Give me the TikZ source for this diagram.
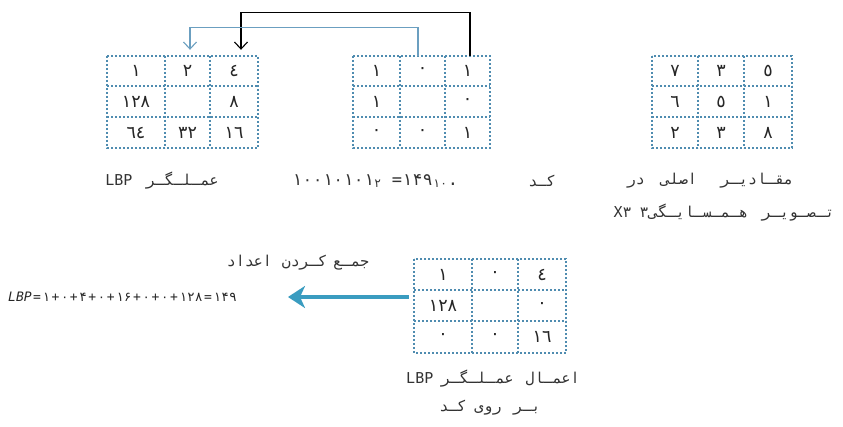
\documentclass[tikz,border=0pt]{standalone}
\usepackage{fontspec}
\usetikzlibrary{arrows.meta}
\setmainfont{DejaVu Sans}
\newfontfamily\arf[Script=Arabic]{DejaVu Sans Mono}
\newfontfamily\digf{DejaVu Sans}
\newfontfamily\monof{DejaVu Sans Mono}
\newcommand\kz{\kern0pt}
\newcommand\ke{\kern1.4pt}
\definecolor{gridc}{HTML}{4F8CB0}
\definecolor{thinblue}{HTML}{6B9FC0}
\definecolor{bigblue}{HTML}{3A9CC0}
\tikzset{
  gridline/.style={gridc, line width=1.8pt, dash pattern=on 1.8pt off 2.2pt},
  cell/.style 2 args={minimum width=#1pt, minimum height=#2pt, inner sep=0pt,
    font=\digf\fontsize{17.5}{19}\selectfont, text=black!85},
  lbl/.style={inner sep=0pt, font=\arf\fontsize{15}{17}\selectfont, text=black!80},
  conblack/.style={black, line width=1.1pt, -{Straight Barb[length=7pt,width=13pt,line width=1.1pt]}},
  conblue/.style={thinblue, line width=1.1pt, -{Straight Barb[length=7pt,width=13pt,line width=1.1pt]}},
  bigarrow/.style={bigblue, line width=4.5pt, -{Stealth[length=17pt,width=22pt,inset=5pt]}}
}
\begin{document}
\begin{tikzpicture}[x=1pt,y=-1pt]
\useasboundingbox (0,0) rectangle (843,427);
\fill[white] (0,0) rectangle (843,427);
% ---------- grid A (LBP operator)
\draw[gridline] (107,56) rectangle (258,148);
\draw[gridline] (165,56)--(165,148) (210,56)--(210,148) (107,86)--(258,86) (107,117)--(258,117);
\node[cell={58}{30}] (A11) at (136,71) {١};
\node[cell={45}{30}] (A12) at (187.5,71) {٢};
\node[cell={48}{30}] (A13) at (234,71) {٤};
\node[cell={58}{31}] (A21) at (136,101.5) {١٢٨};
\node[cell={48}{31}] (A23) at (234,101.5) {٨};
\node[cell={58}{31}] (A31) at (136,132.5) {٦٤};
\node[cell={45}{31}] (A32) at (187.5,132.5) {٣٢};
\node[cell={48}{31}] (A33) at (234,132.5) {١٦};
% ---------- grid B (code)
\draw[gridline] (353,56) rectangle (490,148);
\draw[gridline] (400,56)--(400,148) (445,56)--(445,148) (353,86)--(490,86) (353,117)--(490,117);
\node[cell={47}{30}] (B11) at (376.5,71) {١};
\node[cell={45}{30}] (B12) at (422.5,71) {٠};
\node[cell={45}{30}] (B13) at (467.5,71) {١};
\node[cell={47}{31}] (B21) at (376.5,101.5) {١};
\node[cell={45}{31}] (B23) at (467.5,101.5) {٠};
\node[cell={47}{31}] (B31) at (376.5,132.5) {٠};
\node[cell={45}{31}] (B32) at (422.5,132.5) {٠};
\node[cell={45}{31}] (B33) at (467.5,132.5) {١};
% ---------- grid C (original values)
\draw[gridline] (652,56) rectangle (792,148);
\draw[gridline] (698,56)--(698,148) (744,56)--(744,148) (652,86)--(792,86) (652,117)--(792,117);
\node[cell={46}{30}] (C11) at (675,71) {٧};
\node[cell={46}{30}] (C12) at (721,71) {٣};
\node[cell={48}{30}] (C13) at (768,71) {٥};
\node[cell={46}{31}] (C21) at (675,101.5) {٦};
\node[cell={46}{31}] (C22) at (721,101.5) {٥};
\node[cell={48}{31}] (C23) at (768,101.5) {١};
\node[cell={46}{31}] (C31) at (675,132.5) {٢};
\node[cell={46}{31}] (C32) at (721,132.5) {٣};
\node[cell={48}{31}] (C33) at (768,132.5) {٨};
% ---------- grid D (applied)
\draw[gridline] (414,259) rectangle (566,353);
\draw[gridline] (472,259)--(472,353) (518,259)--(518,353) (414,290)--(566,290) (414,321)--(566,321);
\node[cell={58}{31}] (D11) at (443,274.5) {١};
\node[cell={46}{31}] (D12) at (495,274.5) {٠};
\node[cell={48}{31}] (D13) at (542,274.5) {٤};
\node[cell={58}{31}] (D21) at (443,305.5) {١٢٨};
\node[cell={48}{31}] (D23) at (542,305.5) {٠};
\node[cell={58}{32}] (D31) at (443,337) {٠};
\node[cell={46}{32}] (D32) at (495,337) {٠};
\node[cell={48}{32}] (D33) at (542,337) {١٦};
% ---------- connectors
\draw[conblack] ([xshift=2.5pt]B13.north) -- ++(0,-43) -| ([xshift=7pt,yshift=6pt]A13.north);
\draw[conblue] ([xshift=-4.5pt]B12.north) -- ++(0,-28) -| ([xshift=2.5pt,yshift=6pt]A12.north);
\coordinate (tip) at (288,297);
\draw[bigarrow] ([xshift=-5pt,yshift=8.5pt]D21.west) -- (tip);
% ---------- labels (words placed in their printed left-to-right order)
\node[lbl] (lA) at (162,181) {LBP\hspace{14pt}عمـلـگـر};
\node[lbl, anchor=west, font=\monof\fontsize{17}{19}\selectfont] (lB) at (292,181)
  {١٠٠١٠١٠١\kz\textsubscript{٢}\kz\ \kz=\kz١۴٩\kz\textsubscript{١٠}\kz.};
\node[lbl] (lB2) at (542,181) {کـد};
\node[lbl] (lC1) at (710,181) {در\hspace{16pt}اصلی\hspace{24pt}مقـادیـر};
\node[lbl] (lC2) at (724,213) {X\kz٣\hspace{8pt}٣\kz هـمـسـایـگی\hspace{14pt}تـصـویـر};
\node[lbl] (lD0) at (298,263) {اعداد\hspace{10pt}کـردن\hspace{6pt}جمـع};
\node[inner sep=0pt, anchor=west, font=\monof\fontsize{13}{15}\selectfont, text=black!85] (eq) at (8,297)
  {\textit{LBP}\ke=\ke١\ke+\ke٠\ke+\ke۴\ke+\ke٠\ke+\ke١۶\ke+\ke٠\ke+\ke٠\ke+\ke١٢٨\ke=\ke١۴٩};
\node[lbl] (lD1) at (493,379) {LBP\hspace{8pt}عمـلـگـر\hspace{12pt}اعمـال};
\node[lbl] (lD2) at (490,408) {کـد\hspace{8pt}روی\hspace{12pt}بـر};
\end{tikzpicture}
\end{document}
